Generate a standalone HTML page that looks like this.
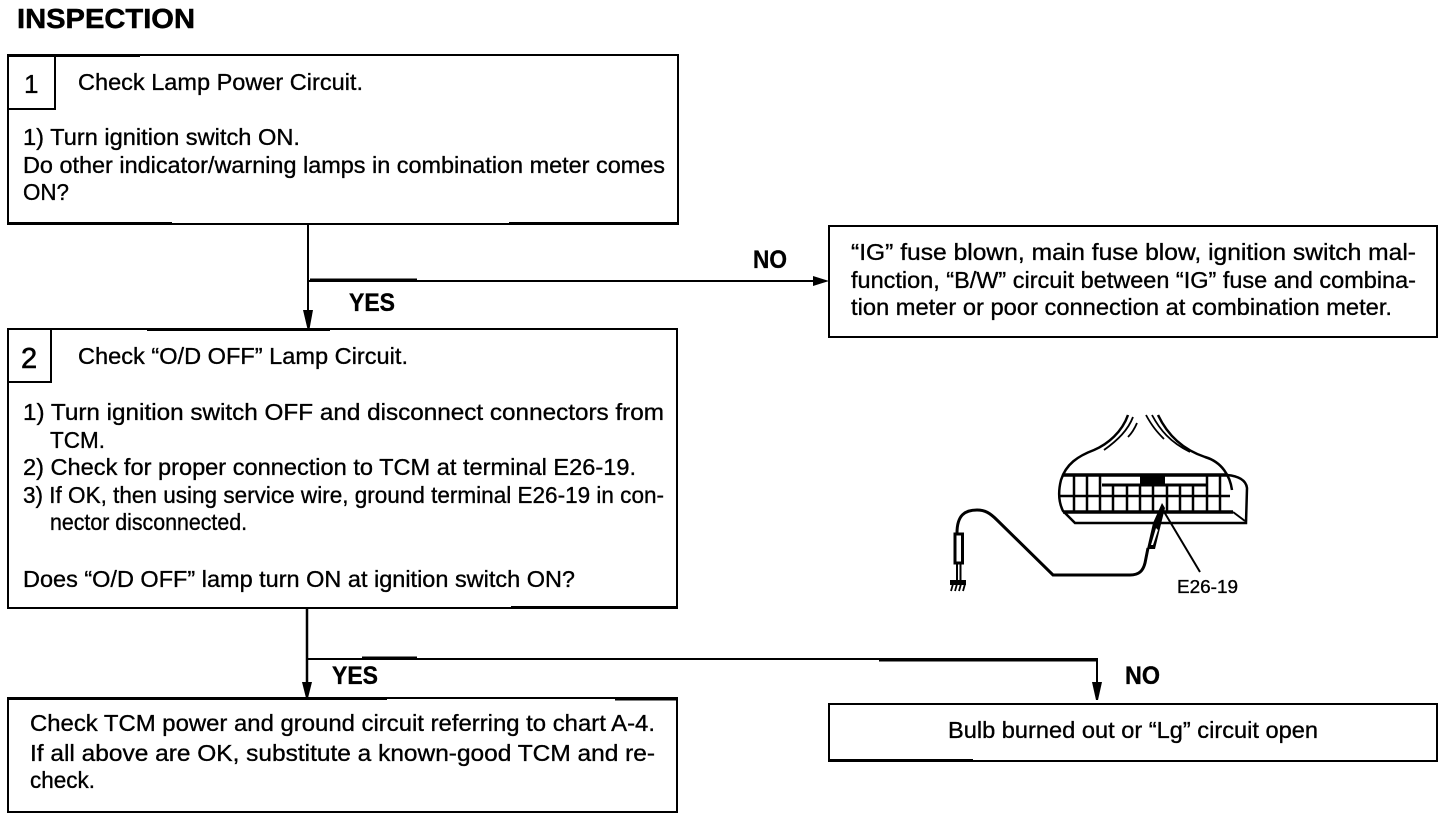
<!DOCTYPE html>
<html lang="en">
<head>
<meta charset="utf-8">
<title>Inspection</title>
<style>
html,body{margin:0;padding:0;background:#fff;width:1456px;height:820px;overflow:hidden}
svg{display:block}
text{font-family:"Liberation Sans",Arial,sans-serif;fill:#000;font-size:23.5px;stroke:#000;stroke-width:.35px}
.b{font-weight:700;font-size:25px}
</style>
</head>
<body>
<svg width="1456" height="820" viewBox="0 0 1456 820" xmlns="http://www.w3.org/2000/svg">
<rect width="1456" height="820" fill="#fff"/>
<g fill="none" stroke="#000" stroke-width="2">
  <!-- Box 1 -->
  <rect x="8" y="55" width="670" height="169"/>
  <path d="M8 109H55V55"/>
  <path d="M8 55.500H140M8 223.500H172M509 223.500H678" stroke-width="3"/>
  <!-- Box 2 -->
  <rect x="8" y="329" width="669" height="279"/>
  <path d="M8 382H51V329"/>
  <path d="M147 329.500H330M511 607.500H677" stroke-width="3"/>
  <!-- Box 3 -->
  <rect x="8" y="698" width="669" height="114"/>
  <path d="M8 698.500H387M615 699H677" stroke-width="3"/>
  <!-- Right top box -->
  <rect x="829" y="226" width="608" height="111"/>
  <!-- Right bottom box -->
  <rect x="829" y="704" width="608" height="57"/>
  <path d="M829 760.500H973" stroke-width="3"/>
  <!-- Connectors -->
  <path d="M308 225V322"/>
  <path d="M308 281H825"/>
  <path d="M310 280H417" stroke-width="3"/>
  <path d="M307 609V692" stroke-width="2.500"/>
  <path d="M307 659H1097V692"/>
  <path d="M362 658H417M879 660H1097" stroke-width="3"/>
</g>
<g fill="#000" stroke="none">
  <path d="M303 310H313L309.500 329H307.500Z"/>
  <path d="M302 682H312L308 698H306Z"/>
  <path d="M1092 682H1102L1098 700H1096Z"/>
  <path d="M813 276L829 281 813 286Z"/>
</g>

<text class="b" x="17" y="28" style="font-size:28px;stroke-width:.5px" textLength="178" lengthAdjust="spacingAndGlyphs">INSPECTION</text>

<!-- Box 1 text -->
<text x="24" y="93" style="font-size:26px">1</text>
<text x="78" y="90" textLength="285" lengthAdjust="spacingAndGlyphs">Check Lamp Power Circuit.</text>
<text x="23" y="145" textLength="277" lengthAdjust="spacingAndGlyphs">1) Turn ignition switch ON.</text>
<text x="23" y="173" textLength="642" lengthAdjust="spacingAndGlyphs">Do other indicator/warning lamps in combination meter comes</text>
<text x="23" y="200" textLength="46" lengthAdjust="spacingAndGlyphs">ON?</text>

<!-- Labels -->
<text class="b" x="753" y="268" textLength="34" lengthAdjust="spacingAndGlyphs">NO</text>
<text class="b" x="349" y="311" textLength="46" lengthAdjust="spacingAndGlyphs">YES</text>
<text class="b" x="332" y="684" textLength="46" lengthAdjust="spacingAndGlyphs">YES</text>
<text class="b" x="1125" y="684" textLength="35" lengthAdjust="spacingAndGlyphs">NO</text>

<!-- Right top text -->
<text x="851" y="260" textLength="565" lengthAdjust="spacingAndGlyphs">“IG” fuse blown, main fuse blow, ignition switch mal-</text>
<text x="851" y="288" textLength="565" lengthAdjust="spacingAndGlyphs">function, “B/W” circuit between “IG” fuse and combina-</text>
<text x="851" y="315" textLength="541" lengthAdjust="spacingAndGlyphs">tion meter or poor connection at combination meter.</text>

<!-- Box 2 text -->
<text x="21" y="368" style="font-size:29px;stroke-width:.6px">2</text>
<text x="78" y="364" textLength="330" lengthAdjust="spacingAndGlyphs">Check “O/D OFF” Lamp Circuit.</text>
<text x="23" y="420" textLength="641" lengthAdjust="spacingAndGlyphs">1) Turn ignition switch OFF and disconnect connectors from</text>
<text x="50" y="448" textLength="55" lengthAdjust="spacingAndGlyphs">TCM.</text>
<text x="23" y="475" textLength="613" lengthAdjust="spacingAndGlyphs">2) Check for proper connection to TCM at terminal E26-19.</text>
<text x="23" y="503" textLength="641" lengthAdjust="spacingAndGlyphs">3) If OK, then using service wire, ground terminal E26-19 in con-</text>
<text x="50" y="530" textLength="197" lengthAdjust="spacingAndGlyphs">nector disconnected.</text>
<text x="23" y="587" textLength="552" lengthAdjust="spacingAndGlyphs">Does “O/D OFF” lamp turn ON at ignition switch ON?</text>

<!-- Box 3 text -->
<text x="30" y="731" textLength="625" lengthAdjust="spacingAndGlyphs">Check TCM power and ground circuit referring to chart A-4.</text>
<text x="30" y="761" textLength="625" lengthAdjust="spacingAndGlyphs">If all above are OK, substitute a known-good TCM and re-</text>
<text x="30" y="788" textLength="65" lengthAdjust="spacingAndGlyphs">check.</text>

<!-- Right bottom text -->
<text x="948" y="738" textLength="370" lengthAdjust="spacingAndGlyphs">Bulb burned out or “Lg” circuit open</text>

<!-- Connector illustration -->
<g fill="none" stroke="#000" stroke-width="2.500">
  <path d="M1128 415C1122 432 1108 444 1094 450C1078 456 1066 464 1061 480C1058 492 1059 503 1063 511L1075 523H1246L1247 488C1246 480 1238 476 1227 475"/>
  <path d="M1133 417C1128 430 1118 440 1104 450M1137 423C1134 430 1131 434 1128 437" stroke-width="1.800"/>
  <path d="M1158 415C1168 436 1184 450 1205 457C1222 462 1230 476 1232 490"/>
  <path d="M1146 415C1152 426 1157 432 1164 439M1152 415C1160 430 1170 442 1190 452" stroke-width="1.800"/>
  <path d="M1063 475H1227" stroke-width="3.500"/>
  <path d="M1102 485H1207" stroke-width="3"/>
  <path d="M1060 496H1230"/>
  <path d="M1063 512H1233" stroke-width="3.500"/>
  <path d="M1233 512L1245 521" stroke-width="2"/>
  <path d="M1074 476V512M1087 476V512M1100 476V512M1113 486V512M1127 486V512M1140 486V512M1153 486V512M1167 486V512M1180 486V512M1193 486V512M1207 476V512M1220 476V512" stroke-width="2.500"/>
  <!-- wire -->
  <path d="M1148 548L1145 563C1143 571 1139 575 1130 575H1053L997 520C990 513 985 510 977 510C965 510 957 515 957 533" stroke-width="3"/>
  <!-- leader -->
  <path d="M1163 510L1200 572" stroke-width="2"/>
  <!-- left probe -->
  <rect x="955" y="534" width="7.500" height="29" stroke-width="3"/>
  <path d="M957 563V581M960.500 563V581" stroke-width="2"/>
  <path d="M950 582.500H966" stroke-width="5"/>
  <path d="M953 584L951 591M957 584L955 591M961 584L959 591M965 584L963 591" stroke-width="1.800"/>
</g>
<rect x="1140" y="475" width="25" height="10" fill="#000"/>
<path d="M1162 503L1153 523L1147 549L1155 549L1162 520L1165 508Z" fill="#000"/>
<path d="M1156 528L1151 545L1153 545L1158 530Z" fill="#fff"/>
<text x="1177" y="593" style="font-size:18px" textLength="61" lengthAdjust="spacingAndGlyphs">E26-19</text>
</svg>
</body>
</html>
